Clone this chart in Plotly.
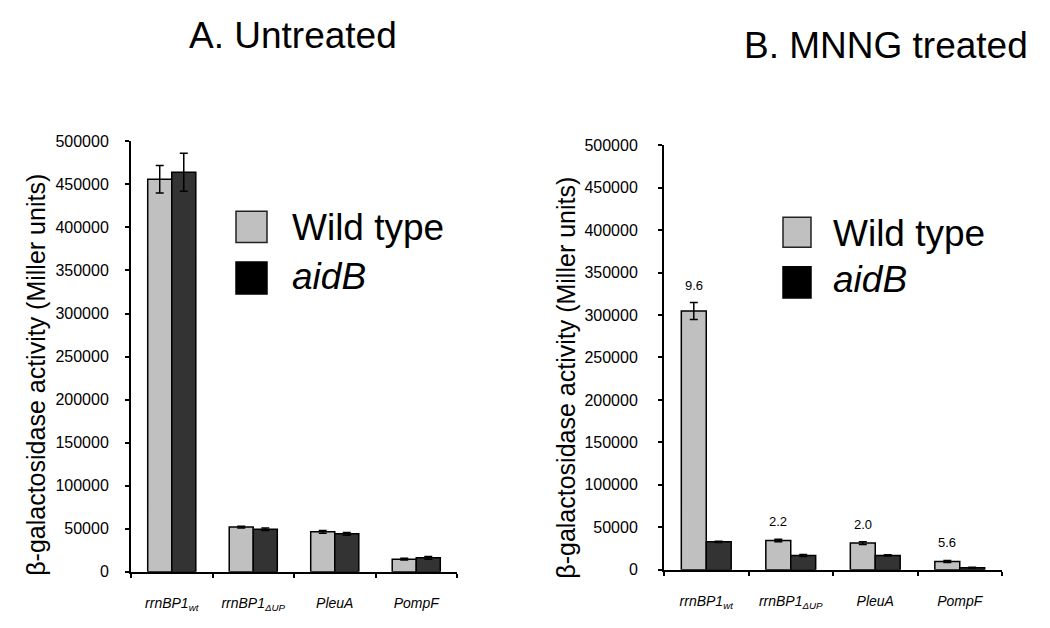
import plotly.graph_objects as go

# ---------------- data ----------------
categories = ["rrnBP1_wt", "rrnBP1_dUP", "PleuA", "PompF"]
tick_labels = ["rrnBP1<sub>wt</sub>", "rrnBP1<sub>ΔUP</sub>", "PleuA", "PompF"]

untreated_wt = [456000, 51900, 46400, 14700]
untreated_wt_err = [16000, 1000, 1500, 1000]
untreated_aidb = [464000, 49500, 44100, 16200]
untreated_aidb_err = [22000, 1500, 1500, 1500]

mnng_wt = [304700, 34500, 31400, 9800]
mnng_wt_err = [10000, 1500, 1500, 1200]
mnng_aidb = [32900, 16900, 16900, 2500]
mnng_aidb_err = [800, 1200, 800, 500]

fold_labels = ["9.6", "2.2", "2.0", "5.6"]

series_names = ["Wild type", "aidB"]
panel_titles = ["A. Untreated", "B. MNNG treated"]
y_title = "β-galactosidase activity (Miller units)"
y_ticks = [0, 50000, 100000, 150000, 200000, 250000, 300000, 350000, 400000, 450000, 500000]

# ---------------- style ----------------
W, H = 1050, 628
FONT = "Arial, Liberation Sans, sans-serif"
WT_COLOR = "#c0c0c0"
AIDB_COLOR = "#333333"


def px_x(p):
    return p / W


def px_y(p):
    return 1 - p / H


fig = go.Figure()

err_style = dict(type="data", color="black", thickness=1.5, width=4, visible=True)
bar_line = dict(color="black", width=1.5)

for xa, ya, wt, wte, ab, abe in [
    ("x", "y", untreated_wt, untreated_wt_err, untreated_aidb, untreated_aidb_err),
    ("x2", "y2", mnng_wt, mnng_wt_err, mnng_aidb, mnng_aidb_err),
]:
    fig.add_trace(go.Bar(x=categories, y=wt, name=series_names[0], xaxis=xa, yaxis=ya,
                         marker=dict(color=WT_COLOR, line=bar_line),
                         error_y=dict(array=wte, **err_style), showlegend=False,
                         offsetgroup="wt"))
    fig.add_trace(go.Bar(x=categories, y=ab, name=series_names[1], xaxis=xa, yaxis=ya,
                         marker=dict(color=AIDB_COLOR, line=bar_line),
                         error_y=dict(array=abe, **err_style), showlegend=False,
                         offsetgroup="aidb"))

axis_common = dict(showline=True, linecolor="black", linewidth=2, showgrid=False,
                   zeroline=False, ticks="outside", tickcolor="black", tickwidth=1.5,
                   ticklen=4)

x_common = dict(axis_common, type="category", tickson="boundaries",
                tickvals=categories, ticktext=tick_labels,
                tickfont=dict(family=FONT, size=14, color="black", style="italic"),
                ticklabelstandoff=17, range=[-0.5, 3.5])
y_common = dict(axis_common, range=[0, 500000], tickvals=y_ticks,
                ticktext=[str(v) for v in y_ticks],
                tickfont=dict(family=FONT, size=16, color="black"))

fig.update_layout(
    width=W, height=H,
    margin=dict(l=0, r=0, t=0, b=0),
    paper_bgcolor="white", plot_bgcolor="white",
    barmode="group", bargap=0.41, bargroupgap=0,
    showlegend=False,
    xaxis=dict(x_common, domain=[px_x(131), px_x(457)], anchor="y"),
    yaxis=dict(y_common, domain=[px_y(579.5), px_y(137)], anchor="x", ticklabelstandoff=13),
    xaxis2=dict(x_common, domain=[px_x(664), px_x(1002)], anchor="y2"),
    yaxis2=dict(y_common, domain=[px_y(577.4), px_y(141)], anchor="x2", ticklabelstandoff=17),
)

ann = []
# panel titles
ann.append(dict(text=panel_titles[0], x=px_x(293), y=px_y(28), xref="paper", yref="paper",
                showarrow=False, xanchor="center", yanchor="middle",
                font=dict(family=FONT, size=37, color="black")))
ann.append(dict(text=panel_titles[1], x=px_x(886), y=px_y(39), xref="paper", yref="paper",
                showarrow=False, xanchor="center", yanchor="middle",
                font=dict(family=FONT, size=37, color="black")))
# y titles
for cx, cy in [(36, 377), (566, 380)]:
    ann.append(dict(text=y_title, x=px_x(cx), y=px_y(cy), xref="paper", yref="paper",
                    showarrow=False, textangle=-90, xanchor="center", yanchor="middle",
                    font=dict(family=FONT, size=25, color="black")))
# fold-change labels above WT bars (panel B)
for c, v, e, t in zip(categories, mnng_wt, mnng_wt_err, fold_labels):
    ann.append(dict(text=t, x=c, y=v + e, xref="x2", yref="y2", showarrow=False,
                    xanchor="center", yanchor="bottom", xshift=-12.5, yshift=8,
                    font=dict(family=FONT, size=13, color="black")))

shapes = []
# custom legends
legend_specs = [
    # (swatch x0, x1, wt y0, y1, aidb y0, y1, text x, wt text y, aidb text y)
    (236, 267, 209, 241, 261, 294, 290, 226, 275.5),
    (783, 811, 215, 246, 266, 298, 831, 231.5, 279.5),
]
for sx0, sx1, wy0, wy1, ay0, ay1, tx, wty, aty in legend_specs:
    shapes.append(dict(type="rect", xref="paper", yref="paper",
                       x0=px_x(sx0), x1=px_x(sx1), y0=px_y(wy1), y1=px_y(wy0),
                       fillcolor=WT_COLOR, line=dict(color="#222222", width=1.5)))
    shapes.append(dict(type="rect", xref="paper", yref="paper",
                       x0=px_x(sx0), x1=px_x(sx1), y0=px_y(ay1), y1=px_y(ay0),
                       fillcolor="black", line=dict(color="black", width=1.5)))
    ann.append(dict(text=series_names[0], x=px_x(tx), y=px_y(wty), xref="paper", yref="paper",
                    showarrow=False, xanchor="left", yanchor="middle",
                    font=dict(family=FONT, size=37, color="black")))
    ann.append(dict(text=series_names[1], x=px_x(tx), y=px_y(aty), xref="paper", yref="paper",
                    showarrow=False, xanchor="left", yanchor="middle",
                    font=dict(family=FONT, size=37, color="black", style="italic")))

fig.update_layout(annotations=ann, shapes=shapes)

fig.write_html("out.html", config={"displayModeBar": False},
               post_script="document.body.style.margin='0';document.body.style.overflow='hidden';")
